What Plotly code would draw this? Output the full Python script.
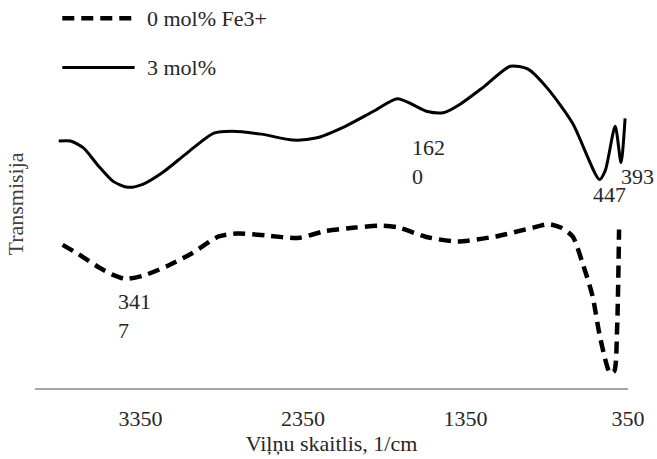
import plotly.graph_objects as go

# ---- data ----
series_names = ["0 mol% Fe3+", "3 mol%"]

wn_0 = [3830, 3732, 3611, 3519, 3446, 3337, 3185, 3033, 2869, 2753, 2576, 2382,
        2212, 2029, 1871, 1761, 1591, 1402, 1165, 934, 837, 764, 691, 630, 569,
        521, 460, 435, 417, 405]
t_0 = [144.5, 135, 122, 114, 110, 113, 123, 136, 153, 156, 154, 151.5,
       158.5, 162, 164, 162, 152.5, 148, 153, 162, 165.5, 162, 153, 126, 93,
       50, 14, 16, 60, 160]

wn_3 = [3854, 3781, 3702, 3611, 3519, 3428, 3337, 3215, 3063, 2899, 2789, 2607,
        2412, 2272, 2090, 1908, 1768, 1585, 1481, 1378, 1238, 1074, 965, 843,
        691, 526, 490, 429, 393, 368]
t_3 = [250, 250, 243, 225, 209, 203, 206, 218, 238, 258, 260, 257,
       251, 253, 265, 281, 293, 280, 279, 288, 305, 326, 323, 303,
       268, 211, 220, 265, 228, 273]

tick_vals = [3350, 2350, 1350, 350]
tick_text = ["3350", "2350", "1350", "350"]

peak_labels = ["341<br>7", "162<br>0", "447", "393"]
peak_wn = [3501, 1694, 578, 405]
peak_t = [102, 258, 210, 229]

x_title = "Viļņu skaitlis, 1/cm"
y_title = "Transmisija"

FONT = "Liberation Serif, Times New Roman, serif"
TXT = "#262626"
FS = 22

fig = go.Figure()
fig.add_trace(go.Scatter(
    x=wn_0, y=t_0, mode="lines", name=series_names[0], showlegend=False,
    line=dict(color="black", width=4.5, dash="12px,7px", shape="spline", smoothing=0.7),
))
fig.add_trace(go.Scatter(
    x=wn_3, y=t_3, mode="lines", name=series_names[1], showlegend=False,
    line=dict(color="black", width=3, shape="spline", smoothing=0.7),
))

# data labels
for txt, xv, yv in zip(peak_labels, peak_wn, peak_t):
    fig.add_annotation(x=xv, y=yv, text=txt, showarrow=False, xanchor="left",
                       yanchor="top", align="left",
                       font=dict(family=FONT, size=FS, color=TXT))

# manual legend (long line samples as in the reference)
legend_rows = [(1.005, "12px,7px", 4.5), (0.871, "solid", 3)]
for name, (ly, dash, w) in zip(series_names, legend_rows):
    fig.add_shape(type="line", xref="paper", yref="paper", x0=0.046, x1=0.168,
                  y0=ly, y1=ly, line=dict(color="black", width=w, dash=dash))
    fig.add_annotation(xref="paper", yref="paper", x=0.186, y=ly, text=name,
                       showarrow=False, xanchor="left", yanchor="middle",
                       font=dict(family=FONT, size=FS, color=TXT))

fig.update_layout(
    width=657, height=459,
    margin=dict(l=35, r=19, t=20, b=65),
    paper_bgcolor="white", plot_bgcolor="white",
    font=dict(family=FONT, size=FS, color=TXT),
    xaxis=dict(
        range=[4000, 350], showgrid=False, zeroline=False,
        showline=True, linecolor="#a6a6a6", linewidth=2,
        tickvals=tick_vals, ticktext=tick_text, ticks="",
        ticklabelstandoff=10,
        tickfont=dict(family=FONT, size=FS, color=TXT),
        title=dict(text=x_title, standoff=0,
                   font=dict(family=FONT, size=FS, color=TXT)),
    ),
    yaxis=dict(
        range=[-1, 373], showgrid=False, zeroline=False, showline=False,
        showticklabels=False, ticks="",
        title=dict(text=y_title, standoff=4,
                   font=dict(family=FONT, size=FS, color="#404040")),
    ),
)

fig.write_html("out.html")
